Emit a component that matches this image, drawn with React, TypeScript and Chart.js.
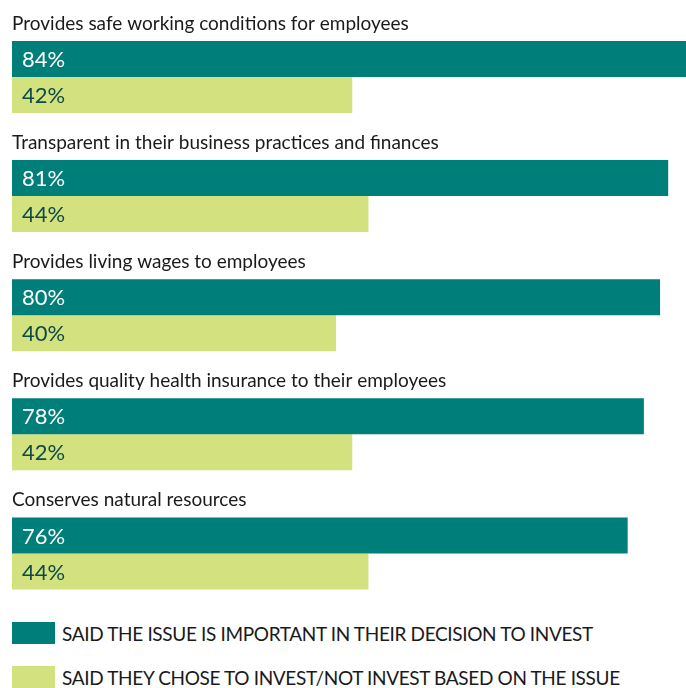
import React, { useEffect, useRef } from "react";
import { Chart, registerables } from "chart.js";

Chart.register(...registerables);

const categories = [
  "Provides safe working conditions for employees",
  "Transparent in their business practices and finances",
  "Provides living wages to employees",
  "Provides quality health insurance to their employees",
  "Conserves natural resources",
];
const importantValues = [84, 81, 80, 78, 76];
const choseValues = [42, 44, 40, 42, 44];
const seriesLabels = [
  "SAID THE ISSUE IS IMPORTANT IN THEIR DECISION TO INVEST",
  "SAID THEY CHOSE TO INVEST/NOT INVEST BASED ON THE ISSUE",
];
const TEAL = "#007f7a";
const LIME = "#d3e17f";

const labelPlugin = {
  id: "groupLabels",
  afterDatasetsDraw(chart: any) {
    const ctx = chart.ctx;
    const area = chart.chartArea;
    ctx.save();
    chart.data.datasets.forEach((ds: any, di: number) => {
      const meta = chart.getDatasetMeta(di);
      meta.data.forEach((bar: any, i: number) => {
        ctx.font = "22px Lato";
        ctx.textBaseline = "middle";
        ctx.textAlign = "left";
        ctx.fillStyle = di === 0 ? "#ffffff" : "#0e4a46";
        ctx.fillText(ds.data[i] + "%", area.left + 10, bar.y + 1);
        if (di === 0) {
          ctx.font = "19px Lato";
          ctx.fillStyle = "#1a1a1a";
          ctx.fillText(categories[i], area.left, bar.y - bar.height / 2 - 17.5);
        }
      });
    });
    ctx.restore();
  },
};

export default function App() {
  const ref = useRef<HTMLCanvasElement>(null);
  useEffect(() => {
    document.body.style.margin = "0";
    document.body.style.overflow = "hidden";
    const chart = new Chart(ref.current!, {
      type: "bar",
      data: {
        labels: categories,
        datasets: [
          {
            label: seriesLabels[0],
            data: importantValues,
            backgroundColor: TEAL,
            categoryPercentage: 0.6045,
            barPercentage: 1,
          },
          {
            label: seriesLabels[1],
            data: choseValues,
            backgroundColor: LIME,
            categoryPercentage: 0.6045,
            barPercentage: 1,
          },
        ],
      },
      options: {
        indexAxis: "y",
        animation: false,
        responsive: false,
        maintainAspectRatio: false,
        layout: { padding: { left: 12, right: 0, top: 17.4, bottom: 0 } },
        scales: {
          x: { display: false, min: 0, max: 83.2 },
          y: { display: false },
        },
        plugins: {
          legend: { display: false },
          tooltip: { enabled: false },
        },
      },
      plugins: [labelPlugin],
    });
    return () => chart.destroy();
  }, []);

  const legendItem = (color: string, text: string, top: number) => (
    <div
      style={{
        position: "absolute",
        left: 12,
        top,
        height: 22,
        display: "flex",
        alignItems: "center",
        whiteSpace: "nowrap",
      }}
    >
      <div style={{ width: 43, height: 22, background: color }} />
      <span
        style={{
          marginLeft: 7,
          fontFamily: "Lato",
          fontSize: 19,
          letterSpacing: "-0.35px",
          color: "#1a1a1a",
        }}
      >
        {text}
      </span>
    </div>
  );

  return (
    <div style={{ position: "relative", width: 686, height: 688, overflow: "hidden" }}>
      <canvas ref={ref} width={686} height={613} style={{ display: "block" }} />
      {legendItem(TEAL, seriesLabels[0], 622)}
      {legendItem(LIME, seriesLabels[1], 666)}
    </div>
  );
}
